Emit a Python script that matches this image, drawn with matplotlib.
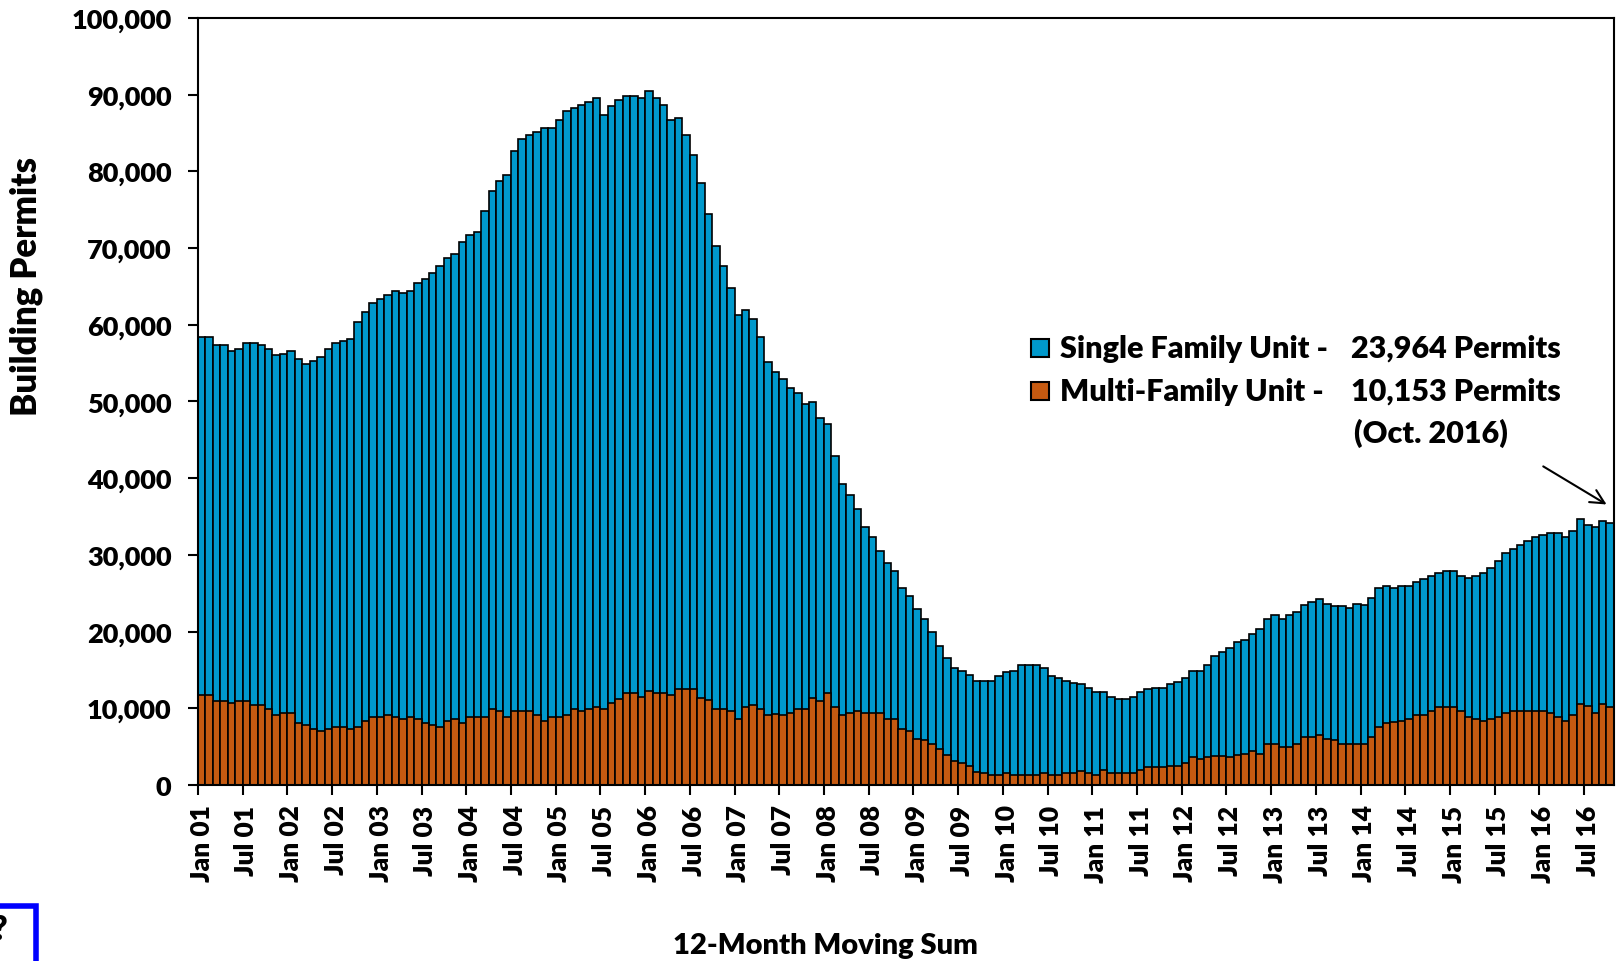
import matplotlib
matplotlib.use('Agg')
import matplotlib.pyplot as plt
from matplotlib.patches import Rectangle
from matplotlib.ticker import FuncFormatter, MultipleLocator
import numpy as np

plt.rcParams['font.family'] = ['Lato', 'DejaVu Sans']
plt.rcParams['font.weight'] = 'heavy'

# 12-month moving sum, thousands of permits, Jan 01 .. Oct 16 (one value per month)
total_permits = [
    58.4, 58.4, 57.3, 57.3, 56.6, 56.9, 57.6, 57.6, 57.3, 56.9, 56.0, 56.2,  # 2001
    56.6, 55.6, 54.9, 55.3, 55.8, 56.9, 57.6, 57.9, 58.2, 60.3, 61.6, 62.9,  # 2002
    63.4, 63.9, 64.4, 64.2, 64.4, 65.5, 66.0, 66.7, 67.6, 68.7, 69.2, 70.8,  # 2003
    71.7, 72.1, 74.8, 77.4, 78.7, 79.5, 82.6, 84.2, 84.8, 85.1, 85.6, 85.6,  # 2004
    86.7, 87.9, 88.3, 88.6, 89.0, 89.5, 87.4, 88.5, 89.3, 89.8, 89.8, 89.5,  # 2005
    90.5, 89.5, 88.7, 86.7, 86.9, 84.7, 82.1, 78.5, 74.5, 70.3, 67.6, 64.8,  # 2006
    61.3, 61.9, 60.8, 58.4, 55.2, 53.9, 52.9, 51.8, 51.1, 49.7, 49.9, 47.9,  # 2007
    47.1, 42.9, 39.2, 37.8, 36.0, 33.6, 32.3, 30.5, 29.0, 27.9, 25.7, 24.6,  # 2008
    22.9, 21.6, 19.9, 18.1, 16.6, 15.3, 14.9, 14.4, 13.6, 13.6, 13.6, 14.2,  # 2009
    14.7, 14.9, 15.7, 15.7, 15.7, 15.2, 14.2, 13.9, 13.6, 13.3, 13.1, 12.6,  # 2010
    12.1, 12.1, 11.5, 11.2, 11.2, 11.5, 12.1, 12.5, 12.6, 12.6, 13.1, 13.4,  # 2011
    13.9, 14.9, 14.9, 15.7, 16.8, 17.3, 17.8, 18.6, 18.9, 19.7, 20.3, 21.6,  # 2012
    22.1, 21.6, 22.1, 22.6, 23.4, 23.9, 24.2, 23.6, 23.3, 23.3, 23.1, 23.6,  # 2013
    23.4, 24.4, 25.7, 25.9, 25.7, 26.0, 26.0, 26.5, 26.8, 27.3, 27.6, 27.9,  # 2014
    27.9, 27.3, 27.0, 27.3, 27.6, 28.3, 29.2, 30.3, 30.7, 31.3, 31.8, 32.3,  # 2015
    32.6, 32.9, 32.9, 32.3, 33.1, 34.7, 33.9, 33.6, 34.4, 34.117,            # 2016
]
multi_family = [
    11.7, 11.7, 11.0, 11.0, 10.7, 11.0, 11.0, 10.4, 10.4, 9.9, 9.1, 9.4,
    9.4, 8.1, 7.8, 7.3, 7.0, 7.3, 7.6, 7.6, 7.3, 7.6, 8.3, 8.9,
    8.9, 9.1, 8.9, 8.6, 8.9, 8.6, 8.1, 7.8, 7.6, 8.3, 8.6, 8.1,
    8.9, 8.9, 8.9, 9.9, 9.7, 8.9, 9.7, 9.7, 9.7, 9.1, 8.3, 8.9,
    8.9, 9.1, 9.9, 9.7, 9.9, 10.2, 9.9, 10.7, 11.2, 12.0, 12.0, 11.5,
    12.3, 12.0, 12.0, 11.7, 12.5, 12.5, 12.5, 11.4, 11.1, 9.9, 9.9, 9.6,
    8.6, 10.2, 10.4, 9.9, 9.1, 9.3, 9.1, 9.4, 9.9, 9.9, 11.4, 10.9,
    12.0, 10.2, 9.1, 9.4, 9.6, 9.4, 9.4, 9.4, 8.6, 8.6, 7.3, 7.0,
    6.0, 5.9, 5.4, 4.7, 3.9, 3.1, 2.8, 2.5, 1.7, 1.6, 1.3, 1.3,
    1.6, 1.3, 1.3, 1.3, 1.3, 1.6, 1.3, 1.3, 1.6, 1.6, 1.8, 1.6,
    1.3, 1.9, 1.6, 1.6, 1.6, 1.6, 2.0, 2.3, 2.3, 2.3, 2.5, 2.5,
    2.8, 3.6, 3.4, 3.6, 3.8, 3.8, 3.6, 3.9, 4.1, 4.4, 4.1, 5.4,
    5.4, 4.9, 4.9, 5.4, 6.2, 6.2, 6.5, 6.0, 5.8, 5.4, 5.4, 5.4,
    5.4, 6.2, 7.5, 8.1, 8.2, 8.4, 8.6, 9.1, 9.1, 9.7, 10.1, 10.1,
    10.1, 9.7, 8.9, 8.6, 8.4, 8.6, 8.9, 9.4, 9.7, 9.7, 9.7, 9.7,
    9.7, 9.4, 8.9, 8.4, 9.1, 10.5, 10.3, 9.4, 10.5, 10.153,
]
tick_labels = [
    'Jan 01', 'Jul 01', 'Jan 02', 'Jul 02', 'Jan 03', 'Jul 03', 'Jan 04', 'Jul 04',
    'Jan 05', 'Jul 05', 'Jan 06', 'Jul 06', 'Jan 07', 'Jul 07', 'Jan 08', 'Jul 08',
    'Jan 09', 'Jul 09', 'Jan 10', 'Jul 10', 'Jan 11', 'Jul 11', 'Jan 12', 'Jul 12',
    'Jan 13', 'Jul 13', 'Jan 14', 'Jul 14', 'Jan 15', 'Jul 15', 'Jan 16', 'Jul 16',
]
legend_names = ['Single Family Unit -', 'Multi-Family Unit -']
legend_counts = ['23,964 Permits', '10,153 Permits']

BLUE = '#0099CC'
ORANGE = '#C55A11'

fig = plt.figure(figsize=(16.17, 9.62), dpi=100)
ax = fig.add_axes([0.1224, 0.1830, 0.8757, 0.7973])

x = np.arange(len(total_permits))
# blue bar runs to the total, orange multi-family bar drawn over its lower part
ax.bar(x, total_permits, width=1.0, color=BLUE, edgecolor='black', linewidth=1.2)
ax.bar(x, multi_family, width=1.0, color=ORANGE, edgecolor='black', linewidth=1.2)

ax.set_xlim(-0.5, len(x) - 0.5)
ax.set_ylim(0, 100)
ax.yaxis.set_major_locator(MultipleLocator(10))
ax.yaxis.set_major_formatter(FuncFormatter(lambda v, p: f"{v * 1000:,.0f}"))

ax.set_xticks(x[::6])
ax.set_xticklabels(tick_labels, rotation=90, fontsize=19, fontweight='heavy')
ax.set_xticks(x[::6] - 0.5, minor=True)
ax.tick_params(axis='x', which='major', length=0, pad=14)
ax.tick_params(axis='x', which='minor', length=7, width=1.5, direction='out')
ax.tick_params(axis='y', length=7, width=1.5, direction='out', pad=12, labelsize=19.5)
for lab in ax.get_yticklabels():
    lab.set_fontweight('heavy')
for sp in ax.spines.values():
    sp.set_linewidth(1.5)

fig.text(26 / 1617, 1 - 286 / 962, 'Building Permits', rotation=90,
         ha='center', va='center', fontsize=25, fontweight='heavy')
fig.text(825 / 1617, 1 - 946 / 962, '12-Month Moving Sum',
         ha='center', va='center', fontsize=21, fontweight='heavy')

# legend drawn by hand so the numbers line up
for i, (col, name, cnt) in enumerate(zip([BLUE, ORANGE], legend_names, legend_counts)):
    yc = 0.5698 - i * 0.0561
    ax.add_patch(Rectangle((0.588, yc - 0.0118), 0.0127, 0.0235, transform=ax.transAxes,
                           facecolor=col, edgecolor='black', linewidth=1.5, clip_on=False))
    ax.text(0.6088, yc, name, transform=ax.transAxes, ha='left', va='center',
            fontsize=22, fontweight='heavy')
    ax.text(0.8143, yc, cnt, transform=ax.transAxes, ha='left', va='center',
            fontsize=22, fontweight='heavy')
ax.text(0.8164, 0.4602, '(Oct. 2016)', transform=ax.transAxes, ha='left', va='center',
        fontsize=22, fontweight='heavy')

ax.annotate('', xy=(0.9965, 0.3638), xytext=(0.9484, 0.4172),
            xycoords='axes fraction', textcoords='axes fraction',
            arrowprops=dict(arrowstyle='->', color='black', lw=1.5, mutation_scale=25))

# blue frame corner left over from the slide crop
fig.add_artist(Rectangle((-0.02, -0.05), 0.0423, 0.1072, transform=fig.transFigure,
                         facecolor='none', edgecolor='#0000FF', linewidth=4))
fig.text(0.0, 0.033, '?', ha='center', va='center', fontsize=24, fontweight='heavy')

fig.savefig('out.png', dpi=100)
